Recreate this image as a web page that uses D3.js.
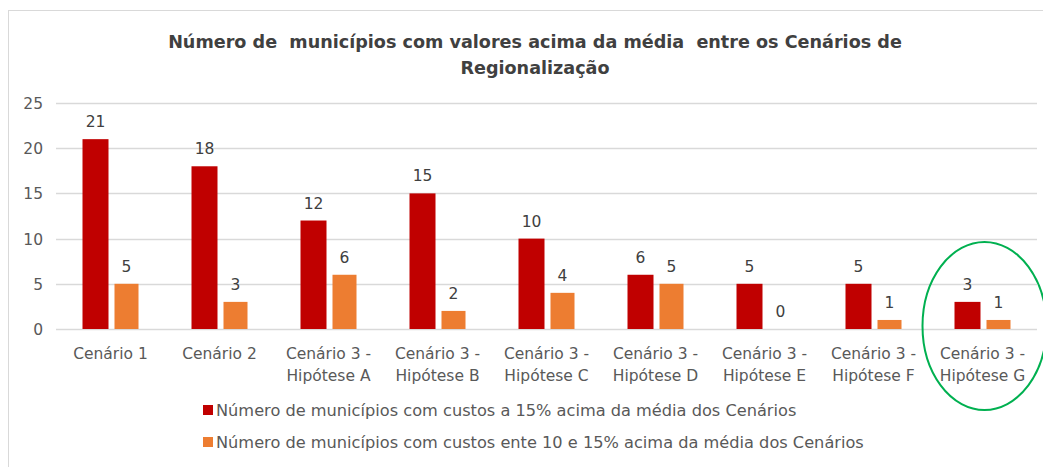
<!DOCTYPE html>
<html>
<head>
<meta charset="utf-8">
<script src="https://cdn.jsdelivr.net/npm/d3@7"></script>
<style>
  body { margin: 0; background: #fff; }
  text { font-family: "DejaVu Sans", sans-serif; white-space: pre; }
</style>
</head>
<body>
<svg id="chart"></svg>
<script>
// Data
const categories = [
  ["Cenário 1"],
  ["Cenário 2"],
  ["Cenário 3 -", "Hipótese A"],
  ["Cenário 3 -", "Hipótese B"],
  ["Cenário 3 -", "Hipótese C"],
  ["Cenário 3 -", "Hipótese D"],
  ["Cenário 3 -", "Hipótese E"],
  ["Cenário 3 -", "Hipótese F"],
  ["Cenário 3 -", "Hipótese G"]
];
const above15 = [21, 18, 12, 15, 10, 6, 5, 5, 3];
const between10and15 = [5, 3, 6, 2, 4, 5, 0, 1, 1];
const seriesNames = [
  "Número de municípios com custos a 15% acima da média dos Cenários",
  "Número de municípios com custos ente 10 e 15% acima da média dos Cenários"
];
const yTicks = [0, 5, 10, 15, 20, 25];

const W = 1043, H = 467;
const colors = ["#c00000", "#ed7d31"];

const svg = d3.select("#chart").attr("width", W).attr("height", H);

// chart frame
svg.append("rect")
  .attr("x", 8.5).attr("y", 10.5)
  .attr("width", W).attr("height", H)
  .attr("fill", "none").attr("stroke", "#d9d9d9");

// Title
const title = svg.append("text")
  .attr("text-anchor", "middle")
  .attr("font-size", 17.6).attr("font-weight", "bold").attr("fill", "#404040");
title.append("tspan").attr("x", 535).attr("y", 48)
  .text("Número de  municípios com valores acima da média  entre os Cenários de");
title.append("tspan").attr("x", 535).attr("y", 74).text("Regionalização");

// Scales
const x0 = d3.scaleBand().domain(d3.range(categories.length)).range([56, 1037]);
const y = d3.scaleLinear().domain([0, 25]).range([329, 103]);

// gridlines
svg.append("g")
  .selectAll("line")
  .data(yTicks)
  .join("line")
  .attr("x1", 56).attr("x2", 1037)
  .attr("y1", d => Math.round(y(d)) + 0.5).attr("y2", d => Math.round(y(d)) + 0.5)
  .attr("stroke", "#d9d9d9").attr("stroke-width", 1.5);

// y axis labels
svg.append("g")
  .selectAll("text")
  .data(yTicks)
  .join("text")
  .attr("x", 43).attr("y", d => y(d) + 6)
  .attr("text-anchor", "end")
  .attr("font-size", 15.5).attr("fill", "#595959")
  .text(d => d);

// bars
const series = [above15, between10and15];
const barW = [26, 24];
const barOff = [-28, 4];
series.forEach((vals, s) => {
  const g = svg.append("g");
  g.selectAll("rect")
    .data(vals)
    .join("rect")
    .attr("x", (d, i) => x0(i) + x0.bandwidth() / 2 + barOff[s])
    .attr("y", d => y(d))
    .attr("width", barW[s])
    .attr("height", d => y(0) - y(d))
    .attr("fill", colors[s]);
  g.selectAll("text")
    .data(vals)
    .join("text")
    .attr("x", (d, i) => x0(i) + x0.bandwidth() / 2 + barOff[s] + barW[s] / 2)
    .attr("y", d => y(d) - 12)
    .attr("text-anchor", "middle")
    .attr("font-size", 15.5).attr("fill", "#404040")
    .text(d => d);
});

// category labels
const cat = svg.append("g")
  .selectAll("text")
  .data(categories)
  .join("text")
  .attr("text-anchor", "middle")
  .attr("font-size", 15.5).attr("fill", "#595959");
cat.selectAll("tspan")
  .data((d, i) => d.map(t => ({ t, i })))
  .join("tspan")
  .attr("x", d => x0(d.i) + x0.bandwidth() / 2)
  .attr("y", (d, j) => 359 + j * 22)
  .text(d => d.t);

// legend
const legend = svg.append("g")
  .selectAll("g")
  .data(seriesNames)
  .join("g")
  .attr("transform", (d, i) => "translate(203," + (405 + i * 32) + ")");
legend.append("rect")
  .attr("width", 10).attr("height", 10)
  .attr("fill", (d, i) => colors[i]);
legend.append("text")
  .attr("x", 13).attr("y", 11)
  .attr("font-size", 16.2).attr("fill", "#595959")
  .text(d => d);

// highlight ellipse around last group
svg.append("ellipse")
  .attr("cx", x0(8) + x0.bandwidth() / 2 + 2)
  .attr("cy", 326)
  .attr("rx", 62).attr("ry", 84)
  .attr("fill", "none").attr("stroke", "#00b050").attr("stroke-width", 2);
</script>
</body>
</html>
